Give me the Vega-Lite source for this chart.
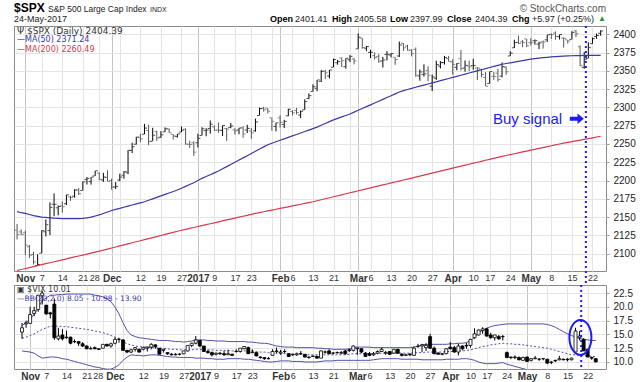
{
"$schema":"https://vega.github.io/schema/vega-lite/v6.json",
"background":"white",
"padding":{"left":13,"top":1,"right":0,"bottom":0},
"spacing":14,
"bounds":"flush",
"config":{
 "view":{"stroke":"#8a8a8a","strokeWidth":1},
 "axis":{"labelFont":"Liberation Sans","labelColor":"#222","domain":false,"ticks":false,"gridColor":"#e4e4e4","gridWidth":1},
 "text":{"font":"Liberation Sans"}
},
"datasets":{"p":[
{"i":-2,"o":2132.2,"h":2140.7,"l":2119.4,"c":2126.4,"m50":2157.5,"m200":2077.0,"vo":15.4,"vh":17.1,"vl":14.2,"vc":16.2,"bu":16.6,"bm":14.3,"bl":12.0},
{"i":-1,"o":2129.8,"h":2133.3,"l":2125.5,"c":2126.2,"m50":2156.0,"m200":2078.3,"vo":16.9,"vh":17.5,"vl":16.2,"vc":17.1,"bu":17.1,"bm":14.5,"bl":11.9},
{"i":0,"o":2128.7,"h":2131.5,"l":2097.9,"c":2111.7,"m50":2155.0,"m200":2079.7,"vo":17.0,"vh":20.0,"vl":16.9,"vc":18.6,"bu":17.8,"bm":14.8,"bl":11.8},
{"i":1,"o":2109.4,"h":2111.8,"l":2094.0,"c":2097.9,"m50":2153.5,"m200":2081.0,"vo":18.8,"vh":20.0,"vl":18.3,"vc":19.3,"bu":18.6,"bm":15.1,"bl":11.6},
{"i":2,"o":2098.8,"h":2102.6,"l":2085.2,"c":2088.7,"m50":2152.0,"m200":2082.3,"vo":19.5,"vh":22.1,"vl":19.1,"vc":22.1,"bu":19.9,"bm":15.5,"bl":11.1},
{"i":3,"o":2083.8,"h":2099.1,"l":2083.8,"c":2085.2,"m50":2151.0,"m200":2083.7,"vo":22.0,"vh":22.9,"vl":20.4,"vc":22.5,"bu":21.1,"bm":15.9,"bl":10.7},
{"i":4,"o":2100.6,"h":2132.0,"l":2100.6,"c":2131.5,"m50":2150.0,"m200":2085.0,"vo":20.3,"vh":20.3,"vl":18.6,"vc":18.7,"bu":21.6,"bm":16.2,"bl":10.8},
{"i":5,"o":2129.9,"h":2146.9,"l":2123.6,"c":2139.6,"m50":2149.5,"m200":2086.3,"vo":18.9,"vh":19.1,"vl":17.9,"vc":18.7,"bu":22.1,"bm":16.5,"bl":10.9},
{"i":6,"o":2131.6,"h":2170.1,"l":2125.4,"c":2163.3,"m50":2149.0,"m200":2087.6,"vo":20.5,"vh":21.5,"vl":14.0,"vc":14.4,"bu":22.1,"bm":16.5,"bl":10.9},
{"i":7,"o":2167.5,"h":2182.3,"l":2151.2,"c":2167.5,"m50":2148.5,"m200":2088.9,"vo":14.2,"vh":16.2,"vl":13.9,"vc":14.7,"bu":22.2,"bm":16.5,"bl":10.8},
{"i":8,"o":2162.7,"h":2165.9,"l":2152.5,"c":2164.5,"m50":2148.2,"m200":2090.2,"vo":14.9,"vh":16.0,"vl":13.9,"vc":14.2,"bu":22.2,"bm":16.4,"bl":10.6},
{"i":9,"o":2165.6,"h":2171.4,"l":2156.1,"c":2164.2,"m50":2148.0,"m200":2091.5,"vo":14.4,"vh":15.7,"vl":14.2,"vc":14.5,"bu":22.3,"bm":16.4,"bl":10.5},
{"i":10,"o":2168.3,"h":2180.8,"l":2166.4,"c":2180.4,"m50":2148.0,"m200":2092.8,"vo":14.5,"vh":14.6,"vl":13.2,"vc":13.4,"bu":22.3,"bm":16.3,"bl":10.3},
{"i":11,"o":2177.5,"h":2179.2,"l":2172.2,"c":2176.9,"m50":2148.0,"m200":2094.2,"vo":13.7,"vh":14.1,"vl":13.4,"vc":13.7,"bu":22.3,"bm":16.2,"bl":10.1},
{"i":12,"o":2178.6,"h":2188.1,"l":2176.6,"c":2187.1,"m50":2148.0,"m200":2095.5,"vo":13.7,"vh":13.8,"vl":12.9,"vc":13.4,"bu":22.3,"bm":16.1,"bl":9.9},
{"i":13,"o":2186.9,"h":2189.9,"l":2180.4,"c":2181.9,"m50":2148.0,"m200":2096.8,"vo":13.3,"vh":13.6,"vl":12.7,"vc":12.9,"bu":22.3,"bm":16.0,"bl":9.7},
{"i":14,"o":2186.4,"h":2198.7,"l":2186.4,"c":2198.2,"m50":2148.3,"m200":2098.1,"vo":12.9,"vh":13.0,"vl":12.3,"vc":12.4,"bu":22.3,"bm":15.9,"bl":9.5},
{"i":15,"o":2201.6,"h":2204.8,"l":2194.5,"c":2202.9,"m50":2149.0,"m200":2099.4,"vo":12.4,"vh":12.8,"vl":12.3,"vc":12.4,"bu":22.3,"bm":15.8,"bl":9.3},
{"i":16,"o":2198.6,"h":2204.7,"l":2194.5,"c":2204.7,"m50":2150.0,"m200":2100.7,"vo":12.6,"vh":12.8,"vl":12.3,"vc":12.4,"bu":22.1,"bm":15.6,"bl":9.1},
{"i":17,"o":2206.3,"h":2213.4,"l":2206.3,"c":2213.4,"m50":2151.5,"m200":2102.0,"vo":12.4,"vh":12.4,"vl":12.2,"vc":12.3,"bu":22.0,"bm":15.5,"bl":9.0},
{"i":18,"o":2210.2,"h":2211.1,"l":2200.4,"c":2201.7,"m50":2153.0,"m200":2103.4,"vo":12.5,"vh":13.2,"vl":12.5,"vc":13.2,"bu":21.8,"bm":15.3,"bl":8.8},
{"i":19,"o":2200.8,"h":2210.5,"l":2198.2,"c":2204.7,"m50":2155.0,"m200":2104.9,"vo":13.2,"vh":13.3,"vl":12.8,"vc":12.9,"bu":21.5,"bm":15.1,"bl":8.7},
{"i":20,"o":2204.3,"h":2214.1,"l":2198.8,"c":2198.8,"m50":2157.0,"m200":2106.3,"vo":12.9,"vh":13.5,"vl":12.6,"vc":13.3,"bu":20.9,"bm":14.8,"bl":8.7},
{"i":21,"o":2200.2,"h":2202.6,"l":2187.4,"c":2191.1,"m50":2159.0,"m200":2107.7,"vo":13.4,"vh":14.4,"vl":13.2,"vc":14.1,"bu":20.0,"bm":14.5,"bl":9.0},
{"i":22,"o":2191.1,"h":2197.9,"l":2188.4,"c":2192.0,"m50":2160.5,"m200":2109.1,"vo":14.1,"vh":14.4,"vl":13.5,"vc":14.1,"bu":18.7,"bm":14.1,"bl":9.5},
{"i":23,"o":2200.6,"h":2209.4,"l":2199.0,"c":2204.7,"m50":2162.0,"m200":2110.6,"vo":14.0,"vh":14.1,"vl":12.1,"vc":12.1,"bu":17.1,"bm":13.7,"bl":10.3},
{"i":24,"o":2207.3,"h":2212.8,"l":2202.5,"c":2212.2,"m50":2163.5,"m200":2112.0,"vo":12.1,"vh":12.2,"vl":11.6,"vc":11.8,"bu":15.7,"bm":13.3,"bl":10.9},
{"i":25,"o":2210.7,"h":2241.6,"l":2208.9,"c":2241.4,"m50":2165.0,"m200":2113.4,"vo":11.8,"vh":12.4,"vl":11.6,"vc":12.2,"bu":14.9,"bm":13.1,"bl":11.3},
{"i":26,"o":2241.1,"h":2251.7,"l":2237.6,"c":2246.2,"m50":2166.5,"m200":2114.9,"vo":12.3,"vh":12.7,"vl":11.9,"vc":12.6,"bu":14.6,"bm":12.9,"bl":11.2},
{"i":27,"o":2249.7,"h":2259.8,"l":2249.2,"c":2259.5,"m50":2168.0,"m200":2116.3,"vo":12.3,"vh":12.4,"vl":11.7,"vc":11.8,"bu":14.4,"bm":12.8,"bl":11.2},
{"i":28,"o":2258.8,"h":2264.0,"l":2252.4,"c":2257.0,"m50":2169.5,"m200":2117.7,"vo":12.3,"vh":12.8,"vl":12.1,"vc":12.6,"bu":14.3,"bm":12.7,"bl":11.1},
{"i":29,"o":2263.3,"h":2277.5,"l":2263.3,"c":2271.7,"m50":2171.0,"m200":2119.1,"vo":12.5,"vh":12.8,"vl":11.9,"vc":12.7,"bu":14.2,"bm":12.7,"bl":11.2},
{"i":30,"o":2268.4,"h":2276.2,"l":2248.4,"c":2253.3,"m50":2173.0,"m200":2120.6,"vo":12.7,"vh":13.4,"vl":12.3,"vc":13.2,"bu":14.1,"bm":12.6,"bl":11.3},
{"i":31,"o":2253.8,"h":2272.1,"l":2253.8,"c":2262.0,"m50":2175.0,"m200":2122.0,"vo":13.1,"vh":13.2,"vl":12.4,"vc":12.8,"bu":14.0,"bm":12.6,"bl":11.3},
{"i":32,"o":2266.8,"h":2268.1,"l":2254.2,"c":2258.1,"m50":2177.0,"m200":2123.4,"vo":12.5,"vh":12.5,"vl":11.4,"vc":11.4,"bu":13.9,"bm":12.5,"bl":11.2},
{"i":33,"o":2259.2,"h":2267.5,"l":2258.2,"c":2262.5,"m50":2179.0,"m200":2124.9,"vo":12.1,"vh":12.4,"vl":11.7,"vc":12.3,"bu":13.9,"bm":12.5,"bl":11.1},
{"i":34,"o":2266.5,"h":2272.6,"l":2266.2,"c":2270.8,"m50":2181.0,"m200":2126.3,"vo":11.7,"vh":11.7,"vl":11.3,"vc":11.5,"bu":13.9,"bm":12.4,"bl":11.0},
{"i":35,"o":2270.5,"h":2271.2,"l":2265.2,"c":2265.2,"m50":2183.0,"m200":2127.7,"vo":11.4,"vh":11.6,"vl":11.2,"vc":11.3,"bu":13.8,"bm":12.3,"bl":10.9},
{"i":36,"o":2262.9,"h":2263.2,"l":2256.1,"c":2261.0,"m50":2185.0,"m200":2129.1,"vo":11.3,"vh":11.6,"vl":11.2,"vc":11.4,"bu":13.7,"bm":12.3,"bl":10.9},
{"i":37,"o":2260.3,"h":2263.8,"l":2258.8,"c":2263.8,"m50":2187.0,"m200":2130.6,"vo":11.4,"vh":11.6,"vl":11.2,"vc":11.4,"bu":13.7,"bm":12.2,"bl":10.8},
{"i":38,"o":2266.2,"h":2273.8,"l":2266.2,"c":2268.9,"m50":2189.5,"m200":2132.0,"vo":11.5,"vh":12.0,"vl":11.4,"vc":12.0,"bu":13.6,"bm":12.2,"bl":10.8},
{"i":39,"o":2270.2,"h":2271.3,"l":2249.1,"c":2249.9,"m50":2192.0,"m200":2133.3,"vo":12.0,"vh":13.0,"vl":11.9,"vc":13.0,"bu":13.7,"bm":12.2,"bl":10.8},
{"i":40,"o":2249.5,"h":2254.5,"l":2244.6,"c":2249.3,"m50":2194.5,"m200":2134.6,"vo":13.0,"vh":13.5,"vl":12.7,"vc":13.4,"bu":13.8,"bm":12.2,"bl":10.8},
{"i":41,"o":2251.6,"h":2253.6,"l":2233.6,"c":2238.8,"m50":2197.0,"m200":2135.8,"vo":13.4,"vh":14.7,"vl":13.2,"vc":14.0,"bu":14.0,"bm":12.3,"bl":10.7},
{"i":42,"o":2251.6,"h":2263.9,"l":2245.1,"c":2257.8,"m50":2200.0,"m200":2137.1,"vo":13.9,"vh":14.0,"vl":12.7,"vc":12.9,"bu":14.0,"bm":12.3,"bl":10.7},
{"i":43,"o":2261.6,"h":2272.8,"l":2261.6,"c":2270.8,"m50":2203.0,"m200":2138.4,"vo":12.9,"vh":12.9,"vl":11.8,"vc":11.9,"bu":14.0,"bm":12.3,"bl":10.7},
{"i":44,"o":2268.2,"h":2271.5,"l":2260.5,"c":2269.0,"m50":2205.5,"m200":2139.7,"vo":11.9,"vh":12.2,"vl":11.5,"vc":11.7,"bu":13.9,"bm":12.2,"bl":10.6},
{"i":45,"o":2271.1,"h":2282.1,"l":2264.1,"c":2277.0,"m50":2208.0,"m200":2140.9,"vo":11.7,"vh":11.9,"vl":11.0,"vc":11.3,"bu":13.9,"bm":12.2,"bl":10.6},
{"i":46,"o":2273.6,"h":2275.5,"l":2268.0,"c":2268.9,"m50":2210.5,"m200":2142.2,"vo":11.4,"vh":11.7,"vl":11.2,"vc":11.6,"bu":13.8,"bm":12.1,"bl":10.5},
{"i":47,"o":2269.0,"h":2279.3,"l":2265.3,"c":2268.9,"m50":2213.0,"m200":2143.5,"vo":11.6,"vh":11.8,"vl":11.3,"vc":11.5,"bu":13.8,"bm":12.1,"bl":10.5},
{"i":48,"o":2268.6,"h":2275.3,"l":2260.8,"c":2275.3,"m50":2216.0,"m200":2144.8,"vo":11.5,"vh":12.0,"vl":11.1,"vc":11.3,"bu":13.8,"bm":12.1,"bl":10.5},
{"i":49,"o":2271.1,"h":2271.8,"l":2254.3,"c":2270.4,"m50":2219.0,"m200":2146.1,"vo":11.3,"vh":12.2,"vl":11.3,"vc":11.5,"bu":13.7,"bm":12.1,"bl":10.6},
{"i":50,"o":2272.7,"h":2278.7,"l":2271.5,"c":2274.6,"m50":2222.0,"m200":2147.3,"vo":11.4,"vh":11.5,"vl":11.1,"vc":11.2,"bu":13.7,"bm":12.0,"bl":10.6},
{"i":51,"o":2269.1,"h":2272.1,"l":2262.8,"c":2267.9,"m50":2225.0,"m200":2148.6,"vo":11.9,"vh":12.3,"vl":11.7,"vc":11.9,"bu":13.7,"bm":12.0,"bl":10.6},
{"i":52,"o":2269.1,"h":2272.0,"l":2263.4,"c":2271.9,"m50":2228.0,"m200":2149.9,"vo":11.9,"vh":12.5,"vl":11.7,"vc":12.5,"bu":13.7,"bm":12.0,"bl":10.6},
{"i":53,"o":2271.9,"h":2274.3,"l":2258.4,"c":2263.7,"m50":2231.0,"m200":2151.2,"vo":12.4,"vh":12.9,"vl":12.3,"vc":12.8,"bu":13.7,"bm":12.0,"bl":10.5},
{"i":54,"o":2269.0,"h":2276.2,"l":2265.0,"c":2271.3,"m50":2234.0,"m200":2152.4,"vo":12.6,"vh":12.8,"vl":11.5,"vc":11.5,"bu":13.6,"bm":12.0,"bl":10.5},
{"i":55,"o":2267.8,"h":2271.8,"l":2257.0,"c":2265.2,"m50":2237.0,"m200":2153.7,"vo":11.7,"vh":12.3,"vl":11.6,"vc":11.8,"bu":13.6,"bm":12.0,"bl":10.4},
{"i":56,"o":2267.9,"h":2284.6,"l":2266.7,"c":2280.1,"m50":2240.0,"m200":2155.0,"vo":11.7,"vh":11.7,"vl":11.0,"vc":11.1,"bu":13.5,"bm":11.9,"bl":10.3},
{"i":57,"o":2288.9,"h":2299.6,"l":2288.9,"c":2298.4,"m50":2243.0,"m200":2156.1,"vo":10.9,"vh":11.0,"vl":10.6,"vc":10.8,"bu":13.4,"bm":11.8,"bl":10.2},
{"i":58,"o":2298.6,"h":2300.9,"l":2294.1,"c":2296.7,"m50":2246.0,"m200":2157.3,"vo":10.8,"vh":10.9,"vl":10.4,"vc":10.6,"bu":13.4,"bm":11.8,"bl":10.1},
{"i":59,"o":2299.0,"h":2299.0,"l":2291.6,"c":2294.7,"m50":2249.0,"m200":2158.4,"vo":10.6,"vh":10.9,"vl":10.5,"vc":10.6,"bu":13.3,"bm":11.7,"bl":10.0},
{"i":60,"o":2286.0,"h":2286.0,"l":2268.0,"c":2280.9,"m50":2251.0,"m200":2159.6,"vo":11.2,"vh":12.3,"vl":11.2,"vc":11.9,"bu":13.1,"bm":11.6,"bl":10.0},
{"i":61,"o":2274.0,"h":2279.1,"l":2267.2,"c":2278.9,"m50":2253.0,"m200":2160.7,"vo":11.9,"vh":12.6,"vl":11.6,"vc":12.0,"bu":12.9,"bm":11.6,"bl":10.1},
{"i":62,"o":2285.6,"h":2289.1,"l":2272.4,"c":2279.6,"m50":2255.0,"m200":2161.9,"vo":11.6,"vh":12.2,"vl":11.3,"vc":11.8,"bu":12.8,"bm":11.6,"bl":10.2},
{"i":63,"o":2276.7,"h":2283.0,"l":2271.7,"c":2280.9,"m50":2257.0,"m200":2163.0,"vo":11.9,"vh":12.3,"vl":11.6,"vc":11.9,"bu":12.7,"bm":11.5,"bl":10.2},
{"i":64,"o":2288.5,"h":2298.3,"l":2287.9,"c":2297.4,"m50":2259.0,"m200":2164.1,"vo":11.5,"vh":11.6,"vl":10.9,"vc":11.0,"bu":12.7,"bm":11.5,"bl":10.2},
{"i":65,"o":2294.3,"h":2296.2,"l":2289.0,"c":2292.6,"m50":2261.0,"m200":2165.3,"vo":11.3,"vh":11.5,"vl":11.1,"vc":11.4,"bu":12.7,"bm":11.4,"bl":10.1},
{"i":66,"o":2295.9,"h":2299.4,"l":2290.2,"c":2293.1,"m50":2263.0,"m200":2166.4,"vo":11.3,"vh":11.7,"vl":11.1,"vc":11.5,"bu":12.6,"bm":11.4,"bl":10.1},
{"i":67,"o":2289.6,"h":2295.9,"l":2285.4,"c":2294.7,"m50":2265.0,"m200":2167.6,"vo":11.5,"vh":12.0,"vl":11.3,"vc":11.5,"bu":12.6,"bm":11.4,"bl":10.1},
{"i":68,"o":2296.7,"h":2311.1,"l":2296.6,"c":2307.9,"m50":2267.0,"m200":2168.7,"vo":11.4,"vh":11.4,"vl":10.8,"vc":10.9,"bu":12.6,"bm":11.3,"bl":10.0},
{"i":69,"o":2312.3,"h":2319.2,"l":2311.1,"c":2316.1,"m50":2269.0,"m200":2169.9,"vo":10.8,"vh":11.0,"vl":10.6,"vc":10.9,"bu":12.6,"bm":11.3,"bl":10.0},
{"i":70,"o":2321.7,"h":2331.6,"l":2321.4,"c":2328.3,"m50":2271.0,"m200":2171.0,"vo":11.0,"vh":11.1,"vl":10.9,"vc":11.1,"bu":12.6,"bm":11.3,"bl":10.0},
{"i":71,"o":2326.1,"h":2337.6,"l":2322.2,"c":2337.6,"m50":2273.0,"m200":2172.4,"vo":11.0,"vh":11.2,"vl":10.6,"vc":10.7,"bu":12.5,"bm":11.3,"bl":10.0},
{"i":72,"o":2335.6,"h":2351.3,"l":2334.8,"c":2349.3,"m50":2275.5,"m200":2173.7,"vo":10.7,"vh":12.1,"vl":10.7,"vc":12.0,"bu":12.5,"bm":11.3,"bl":10.1},
{"i":73,"o":2349.6,"h":2351.3,"l":2338.9,"c":2347.2,"m50":2278.0,"m200":2175.1,"vo":11.8,"vh":12.1,"vl":11.5,"vc":11.8,"bu":12.4,"bm":11.3,"bl":10.2},
{"i":74,"o":2343.0,"h":2351.2,"l":2339.6,"c":2351.2,"m50":2280.5,"m200":2176.5,"vo":12.0,"vh":12.3,"vl":11.5,"vc":11.5,"bu":12.4,"bm":11.3,"bl":10.2},
{"i":75,"o":2354.9,"h":2366.7,"l":2354.9,"c":2365.4,"m50":2283.0,"m200":2177.8,"vo":11.6,"vh":11.8,"vl":11.4,"vc":11.6,"bu":12.3,"bm":11.3,"bl":10.2},
{"i":76,"o":2361.1,"h":2365.1,"l":2358.3,"c":2362.8,"m50":2285.0,"m200":2179.2,"vo":11.7,"vh":11.9,"vl":11.5,"vc":11.7,"bu":12.3,"bm":11.3,"bl":10.3},
{"i":77,"o":2367.5,"h":2368.3,"l":2355.1,"c":2363.8,"m50":2287.0,"m200":2180.5,"vo":11.6,"vh":12.0,"vl":11.4,"vc":11.7,"bu":12.3,"bm":11.3,"bl":10.3},
{"i":78,"o":2355.7,"h":2367.3,"l":2352.9,"c":2367.3,"m50":2289.0,"m200":2181.9,"vo":12.0,"vh":12.2,"vl":11.3,"vc":11.5,"bu":12.3,"bm":11.3,"bl":10.3},
{"i":79,"o":2365.2,"h":2371.5,"l":2361.9,"c":2369.8,"m50":2291.0,"m200":2183.3,"vo":12.2,"vh":12.4,"vl":11.8,"vc":12.1,"bu":12.4,"bm":11.4,"bl":10.3},
{"i":80,"o":2366.1,"h":2367.8,"l":2358.9,"c":2363.6,"m50":2293.5,"m200":2184.6,"vo":12.1,"vh":13.0,"vl":11.9,"vc":12.9,"bu":12.6,"bm":11.5,"bl":10.3},
{"i":81,"o":2380.1,"h":2401.0,"l":2380.1,"c":2396.0,"m50":2296.0,"m200":2186.0,"vo":12.4,"vh":12.6,"vl":11.3,"vc":12.5,"bu":12.7,"bm":11.5,"bl":10.3},
{"i":82,"o":2394.8,"h":2394.8,"l":2380.2,"c":2381.9,"m50":2298.5,"m200":2187.3,"vo":12.4,"vh":12.5,"vl":11.6,"vc":11.8,"bu":12.7,"bm":11.5,"bl":10.3},
{"i":83,"o":2380.9,"h":2383.9,"l":2376.9,"c":2383.1,"m50":2301.0,"m200":2188.7,"vo":11.6,"vh":11.8,"vl":10.9,"vc":11.0,"bu":12.7,"bm":11.5,"bl":10.3},
{"i":84,"o":2375.2,"h":2378.8,"l":2367.4,"c":2375.3,"m50":2303.5,"m200":2190.0,"vo":11.5,"vh":11.8,"vl":11.1,"vc":11.2,"bu":12.7,"bm":11.5,"bl":10.3},
{"i":85,"o":2370.7,"h":2375.1,"l":2365.5,"c":2368.4,"m50":2306.0,"m200":2191.3,"vo":11.3,"vh":11.8,"vl":11.1,"vc":11.5,"bu":12.6,"bm":11.5,"bl":10.4},
{"i":86,"o":2369.8,"h":2373.1,"l":2361.0,"c":2363.0,"m50":2308.5,"m200":2192.7,"vo":11.6,"vh":12.1,"vl":11.4,"vc":11.9,"bu":12.6,"bm":11.6,"bl":10.5},
{"i":87,"o":2363.5,"h":2369.1,"l":2354.5,"c":2364.9,"m50":2311.0,"m200":2194.0,"vo":11.9,"vh":12.6,"vl":11.8,"vc":12.3,"bu":12.6,"bm":11.6,"bl":10.6},
{"i":88,"o":2372.5,"h":2376.9,"l":2364.2,"c":2372.6,"m50":2313.5,"m200":2195.3,"vo":11.6,"vh":12.0,"vl":11.3,"vc":11.7,"bu":12.6,"bm":11.6,"bl":10.6},
{"i":89,"o":2371.6,"h":2374.4,"l":2368.5,"c":2373.5,"m50":2316.0,"m200":2196.7,"vo":11.9,"vh":11.9,"vl":11.3,"vc":11.4,"bu":12.6,"bm":11.6,"bl":10.6},
{"i":90,"o":2368.6,"h":2368.6,"l":2358.2,"c":2365.5,"m50":2318.5,"m200":2198.0,"vo":11.6,"vh":12.3,"vl":11.5,"vc":12.3,"bu":12.6,"bm":11.6,"bl":10.6},
{"i":91,"o":2370.3,"h":2390.0,"l":2368.9,"c":2385.3,"m50":2321.0,"m200":2199.3,"vo":12.3,"vh":12.4,"vl":11.5,"vc":11.6,"bu":12.6,"bm":11.6,"bl":10.6},
{"i":92,"o":2387.7,"h":2388.1,"l":2377.2,"c":2381.4,"m50":2323.0,"m200":2200.7,"vo":11.4,"vh":11.6,"vl":11.0,"vc":11.2,"bu":12.6,"bm":11.6,"bl":10.5},
{"i":93,"o":2383.7,"h":2385.7,"l":2377.6,"c":2378.3,"m50":2324.5,"m200":2202.0,"vo":11.2,"vh":11.5,"vl":11.1,"vc":11.3,"bu":12.6,"bm":11.6,"bl":10.5},
{"i":94,"o":2378.2,"h":2379.6,"l":2369.7,"c":2373.5,"m50":2326.0,"m200":2203.3,"vo":11.4,"vh":11.6,"vl":11.1,"vc":11.3,"bu":12.6,"bm":11.6,"bl":10.5},
{"i":95,"o":2379.3,"h":2381.9,"l":2341.9,"c":2344.0,"m50":2327.5,"m200":2204.7,"vo":11.2,"vh":12.8,"vl":11.1,"vc":12.5,"bu":12.7,"bm":11.6,"bl":10.5},
{"i":96,"o":2343.0,"h":2351.8,"l":2336.5,"c":2348.5,"m50":2329.0,"m200":2206.0,"vo":12.8,"vh":13.3,"vl":12.6,"vc":12.8,"bu":12.9,"bm":11.7,"bl":10.5},
{"i":97,"o":2345.1,"h":2358.9,"l":2342.1,"c":2346.0,"m50":2330.5,"m200":2207.4,"vo":12.9,"vh":13.3,"vl":11.8,"vc":13.1,"bu":13.1,"bm":11.7,"bl":10.4},
{"i":98,"o":2350.4,"h":2356.2,"l":2335.7,"c":2344.0,"m50":2332.0,"m200":2208.8,"vo":12.6,"vh":13.4,"vl":12.0,"vc":13.0,"bu":13.2,"bm":11.8,"bl":10.4},
{"i":99,"o":2329.1,"h":2344.9,"l":2322.3,"c":2341.6,"m50":2333.5,"m200":2210.1,"vo":14.6,"vh":15.1,"vl":12.4,"vc":12.5,"bu":13.2,"bm":11.8,"bl":10.4},
{"i":100,"o":2339.8,"h":2363.8,"l":2337.6,"c":2358.6,"m50":2335.0,"m200":2211.5,"vo":12.5,"vh":12.8,"vl":11.4,"vc":11.5,"bu":13.2,"bm":11.8,"bl":10.4},
{"i":101,"o":2356.5,"h":2363.4,"l":2353.3,"c":2361.1,"m50":2336.5,"m200":2212.9,"vo":11.6,"vh":11.8,"vl":11.3,"vc":11.4,"bu":13.2,"bm":11.8,"bl":10.4},
{"i":102,"o":2361.3,"h":2370.4,"l":2358.6,"c":2368.1,"m50":2338.0,"m200":2214.3,"vo":11.4,"vh":11.6,"vl":11.2,"vc":11.5,"bu":13.2,"bm":11.8,"bl":10.4},
{"i":103,"o":2366.6,"h":2370.4,"l":2362.6,"c":2362.7,"m50":2339.5,"m200":2215.6,"vo":11.5,"vh":12.5,"vl":11.4,"vc":12.4,"bu":13.2,"bm":11.9,"bl":10.5},
{"i":104,"o":2362.3,"h":2365.9,"l":2344.7,"c":2358.8,"m50":2341.0,"m200":2217.0,"vo":12.7,"vh":13.6,"vl":12.3,"vc":12.4,"bu":13.3,"bm":11.9,"bl":10.5},
{"i":105,"o":2354.8,"h":2360.5,"l":2350.7,"c":2360.2,"m50":2342.5,"m200":2218.3,"vo":12.6,"vh":12.9,"vl":11.7,"vc":11.8,"bu":13.3,"bm":11.9,"bl":10.5},
{"i":106,"o":2366.6,"h":2378.4,"l":2350.5,"c":2353.0,"m50":2344.0,"m200":2219.7,"vo":11.8,"vh":13.3,"vl":11.2,"vc":12.9,"bu":13.4,"bm":12.0,"bl":10.5},
{"i":107,"o":2353.8,"h":2364.2,"l":2348.9,"c":2357.5,"m50":2345.5,"m200":2221.0,"vo":12.9,"vh":13.0,"vl":12.1,"vc":12.4,"bu":13.4,"bm":12.0,"bl":10.6},
{"i":108,"o":2356.6,"h":2363.8,"l":2349.6,"c":2355.5,"m50":2347.0,"m200":2222.3,"vo":13.0,"vh":13.5,"vl":12.4,"vc":12.9,"bu":13.5,"bm":12.1,"bl":10.6},
{"i":109,"o":2357.2,"h":2366.4,"l":2351.5,"c":2357.2,"m50":2348.5,"m200":2223.7,"vo":13.0,"vh":14.2,"vl":12.6,"vc":14.1,"bu":13.9,"bm":12.2,"bl":10.5},
{"i":110,"o":2353.9,"h":2355.2,"l":2337.3,"c":2353.8,"m50":2350.0,"m200":2225.0,"vo":14.4,"vh":16.1,"vl":14.2,"vc":15.1,"bu":14.5,"bm":12.4,"bl":10.3},
{"i":111,"o":2352.2,"h":2352.7,"l":2341.2,"c":2344.9,"m50":2351.5,"m200":2226.3,"vo":14.9,"vh":15.9,"vl":14.8,"vc":15.8,"bu":15.2,"bm":12.6,"bl":10.0},
{"i":112,"o":2341.0,"h":2348.3,"l":2328.9,"c":2329.0,"m50":2353.0,"m200":2227.7,"vo":15.7,"vh":16.3,"vl":15.1,"vc":16.0,"bu":15.8,"bm":12.8,"bl":9.8},
{"i":113,"o":2332.6,"h":2349.1,"l":2332.5,"c":2349.0,"m50":2354.5,"m200":2229.0,"vo":16.0,"vh":16.2,"vl":14.6,"vc":14.7,"bu":16.1,"bm":12.9,"bl":9.7},
{"i":114,"o":2342.5,"h":2348.4,"l":2337.5,"c":2342.2,"m50":2356.0,"m200":2230.3,"vo":14.9,"vh":15.3,"vl":14.2,"vc":14.4,"bu":16.4,"bm":13.1,"bl":9.7},
{"i":115,"o":2346.8,"h":2352.6,"l":2335.1,"c":2338.2,"m50":2357.5,"m200":2231.7,"vo":14.4,"vh":14.9,"vl":13.9,"vc":14.9,"bu":16.6,"bm":13.2,"bl":9.7},
{"i":116,"o":2342.7,"h":2361.4,"l":2340.9,"c":2355.8,"m50":2359.0,"m200":2233.0,"vo":14.6,"vh":14.9,"vl":14.0,"vc":14.2,"bu":16.7,"bm":13.3,"bl":9.8},
{"i":117,"o":2354.7,"h":2356.2,"l":2344.5,"c":2348.7,"m50":2360.0,"m200":2234.2,"vo":14.6,"vh":14.9,"vl":13.9,"vc":14.6,"bu":16.8,"bm":13.4,"bl":9.9},
{"i":118,"o":2370.3,"h":2376.9,"l":2370.3,"c":2374.2,"m50":2361.0,"m200":2235.4,"vo":11.7,"vh":11.9,"vl":10.8,"vc":10.8,"bu":16.9,"bm":13.3,"bl":9.6},
{"i":119,"o":2381.5,"h":2392.5,"l":2381.2,"c":2388.6,"m50":2362.0,"m200":2236.6,"vo":10.9,"vh":11.0,"vl":10.5,"vc":10.8,"bu":16.9,"bm":13.3,"bl":9.4},
{"i":120,"o":2388.9,"h":2398.2,"l":2386.8,"c":2387.5,"m50":2363.0,"m200":2237.9,"vo":10.8,"vh":11.2,"vl":10.5,"vc":10.9,"bu":16.9,"bm":13.2,"bl":9.2},
{"i":121,"o":2389.7,"h":2392.1,"l":2382.4,"c":2388.8,"m50":2364.0,"m200":2239.1,"vo":10.8,"vh":11.0,"vl":10.3,"vc":10.4,"bu":16.9,"bm":13.2,"bl":9.0},
{"i":122,"o":2393.7,"h":2393.7,"l":2382.4,"c":2384.2,"m50":2365.0,"m200":2240.3,"vo":10.3,"vh":11.0,"vl":10.2,"vc":10.8,"bu":16.9,"bm":13.1,"bl":8.8},
{"i":123,"o":2388.5,"h":2394.5,"l":2384.8,"c":2388.3,"m50":2366.0,"m200":2241.5,"vo":10.9,"vh":11.0,"vl":10.0,"vc":10.1,"bu":16.9,"bm":13.0,"bl":8.6},
{"i":124,"o":2391.1,"h":2392.9,"l":2385.8,"c":2391.2,"m50":2366.8,"m200":2242.7,"vo":10.3,"vh":10.7,"vl":10.1,"vc":10.6,"bu":16.9,"bm":12.9,"bl":8.4},
{"i":125,"o":2386.5,"h":2389.8,"l":2379.8,"c":2388.1,"m50":2367.5,"m200":2243.9,"vo":10.6,"vh":11.1,"vl":10.5,"vc":10.7,"bu":16.9,"bm":12.8,"bl":8.2},
{"i":126,"o":2389.8,"h":2391.4,"l":2380.4,"c":2389.5,"m50":2368.0,"m200":2245.1,"vo":10.5,"vh":10.7,"vl":10.2,"vc":10.5,"bu":16.9,"bm":12.7,"bl":8.0},
{"i":127,"o":2392.4,"h":2399.3,"l":2389.4,"c":2399.3,"m50":2368.5,"m200":2246.4,"vo":10.6,"vh":10.7,"vl":10.3,"vc":10.6,"bu":16.9,"bm":12.6,"bl":7.8},
{"i":128,"o":2399.9,"h":2401.4,"l":2393.5,"c":2399.4,"m50":2369.0,"m200":2247.6,"vo":10.5,"vh":10.5,"vl":9.6,"vc":9.8,"bu":16.8,"bm":12.5,"bl":7.7},
{"i":129,"o":2401.6,"h":2403.9,"l":2392.4,"c":2396.9,"m50":2369.4,"m200":2248.8,"vo":9.9,"vh":10.2,"vl":9.6,"vc":10.0,"bu":16.6,"bm":12.3,"bl":7.6},
{"i":130,"o":2396.8,"h":2399.7,"l":2392.8,"c":2399.6,"m50":2369.8,"m200":2250.0,"vo":10.3,"vh":10.4,"vl":10.0,"vc":10.2,"bu":16.3,"bm":12.1,"bl":7.6},
{"i":131,"o":2394.8,"h":2395.7,"l":2381.7,"c":2394.4,"m50":2370.1,"m200":2251.1,"vo":10.4,"vh":11.1,"vl":10.3,"vc":10.6,"bu":15.9,"bm":11.9,"bl":7.6},
{"i":132,"o":2392.4,"h":2392.4,"l":2387.2,"c":2390.9,"m50":2370.4,"m200":2252.1,"vo":10.5,"vh":10.6,"vl":10.3,"vc":10.4,"bu":15.5,"bm":11.7,"bl":7.7},
{"i":133,"o":2393.0,"h":2404.1,"l":2393.0,"c":2402.3,"m50":2370.6,"m200":2253.2,"vo":10.5,"vh":10.7,"vl":10.1,"vc":10.4,"bu":15.1,"bm":11.5,"bl":7.8},
{"i":134,"o":2404.6,"h":2405.8,"l":2396.1,"c":2400.7,"m50":2370.8,"m200":2254.2,"vo":10.4,"vh":10.8,"vl":10.3,"vc":10.7,"bu":14.8,"bm":11.3,"bl":7.9},
{"i":135,"o":2382.9,"h":2384.9,"l":2356.2,"c":2357.0,"m50":2370.9,"m200":2255.3,"vo":11.8,"vh":16.2,"vl":11.6,"vc":15.6,"bu":14.5,"bm":11.3,"bl":7.9},
{"i":136,"o":2354.7,"h":2375.7,"l":2352.7,"c":2365.7,"m50":2371.0,"m200":2256.3,"vo":14.4,"vh":15.6,"vl":13.9,"vc":14.7,"bu":14.3,"bm":11.2,"bl":8.0},
{"i":137,"o":2367.0,"h":2389.1,"l":2367.0,"c":2381.7,"m50":2371.1,"m200":2257.4,"vo":14.1,"vh":14.3,"vl":12.0,"vc":12.0,"bu":14.1,"bm":11.2,"bl":8.1},
{"i":138,"o":2387.2,"h":2395.5,"l":2386.9,"c":2394.0,"m50":2371.2,"m200":2258.4,"vo":12.3,"vh":12.4,"vl":10.9,"vc":10.9,"bu":14.0,"bm":11.1,"bl":8.1},
{"i":139,"o":2397.0,"h":2400.9,"l":2393.9,"c":2398.4,"m50":2371.2,"m200":2259.5,"vo":10.8,"vh":11.0,"vl":10.4,"vc":10.7,"bu":13.9,"bm":11.0,"bl":8.1},
{"i":140,"o":2401.4,"h":2405.6,"l":2398.0,"c":2404.4,"m50":2371.24,"m200":2260.49,"vo":10.6,"vh":10.7,"vl":9.9,"vc":10.01,"bu":13.9,"bm":10.98,"bl":8.05}
],
"one":[{"k":1}]},
"vconcat":[
{
 "width":592,"height":245,
 "resolve":{"axis":{"x":"independent","y":"independent"}},
 "layer":[
  {"data":{"name":"p"},"mark":{"type":"rule","strokeWidth":1,"clip":true},
   "encoding":{"x":{"field":"i","type":"quantitative","scale":{"domain":[-2.75,141.3],"nice":false,"zero":false},
     "axis":{"title":null,"values":[0,4,9,14,18,21,23,28,33,38,42,46,51,55,60,62,65,70,75,79,81,84,89,94,99,104,109,113,118,123,128,133,138],
      "labelExpr":"['Nov','7','14','21','28','Dec','','12','19','27','2017','9','17','23','','Feb','6','13','21','','Mar','6','13','20','27','Apr','10','17','24','May','8','15','22'][indexof([0,4,9,14,18,21,23,28,33,38,42,46,51,55,60,62,65,70,75,79,81,84,89,94,99,104,109,113,118,123,128,133,138], datum.value)]",
      "labelFontWeight":{"condition":{"test":"indexof([0,21,42,62,81,104,123], datum.value) >= 0","value":"bold"},"value":"normal"},
      "labelFontSize":{"condition":{"test":"indexof([0,21,42,62,81,104,123], datum.value) >= 0","value":10},"value":9},
      "labelAlign":{"condition":{"test":"datum.value == 18","value":"right"},"value":"center"},
      "gridColor":{"condition":{"test":"indexof([0,21,42,62,81,104,123], datum.value) >= 0","value":"#c4c4c4"},"value":"#e4e4e4"},
      "labelPadding":2,"labelOverlap":false,"labelFlush":false,"labelBound":false,"labelColor":"#333"}},
    "y":{"field":"l","type":"quantitative","scale":{"domain":[2076.3,2411.3],"nice":false,"zero":false},
     "axis":{"title":null,"orient":"right","format":"d","values":[2100,2125,2150,2175,2200,2225,2250,2275,2300,2325,2350,2375,2400],"labelOverlap":false,"labelFontSize":10,"labelPadding":4,"ticks":true,"tickSize":3,"tickColor":"#999","gridColor":"#e4e4e4"}},
    "y2":{"field":"h"},
    "color":{"condition":{"test":"datum.c >= datum.o","value":"#000000"},"value":"#555555"}}},
  {"data":{"name":"p"},"mark":{"type":"tick","orient":"horizontal","size":2,"thickness":1,"xOffset":-1.5,"clip":true},
   "encoding":{"x":{"field":"i","type":"quantitative","axis":null},"y":{"field":"o","type":"quantitative","axis":null},
    "color":{"condition":{"test":"datum.c >= datum.o","value":"#000000"},"value":"#555555"}}},
  {"data":{"name":"p"},"mark":{"type":"tick","orient":"horizontal","size":2,"thickness":1,"xOffset":1.5,"clip":true},
   "encoding":{"x":{"field":"i","type":"quantitative","axis":null},"y":{"field":"c","type":"quantitative","axis":null},
    "color":{"condition":{"test":"datum.c >= datum.o","value":"#000000"},"value":"#555555"}}},
  {"data":{"name":"p"},"mark":{"type":"line","color":"#3a3aa2","strokeWidth":1.2,"clip":true},
   "encoding":{"x":{"field":"i","type":"quantitative","axis":null},"y":{"field":"m50","type":"quantitative","axis":null}}},
  {"data":{"name":"p"},"mark":{"type":"line","color":"#d93a4e","strokeWidth":1.2,"clip":true},
   "encoding":{"x":{"field":"i","type":"quantitative","axis":null},"y":{"field":"m200","type":"quantitative","axis":null}}},
  {"data":{"name":"one"},"mark":{"type":"rule","color":"#1c1cf0","strokeWidth":2,"strokeDash":[2,3]},
   "encoding":{"x":{"datum":136.4,"axis":null},"y":{"datum":2411.3,"axis":null},"y2":{"datum":2056}}},
  {"data":{"name":"one"},"mark":{"type":"text","align":"left","baseline":"middle","fontSize":15,"color":"#1c1cf0","text":"Buy signal"},
   "encoding":{"x":{"datum":113.8,"axis":null},"y":{"datum":2284.5,"axis":null}}},
  {"data":{"name":"one"},"mark":{"type":"point","shape":"M-1,-0.3 L0.1,-0.3 L0.1,-0.75 L1,0 L0.1,0.75 L0.1,0.3 L-1,0.3 Z","size":196,"filled":true,"color":"#1c1cf0","opacity":1},
   "encoding":{"x":{"datum":134.2,"axis":null},"y":{"datum":2284.5,"axis":null}}},
  {"data":{"name":"one"},"mark":{"type":"text","align":"left","baseline":"middle","font":"DejaVu Sans","fontSize":9,"color":"#333","text":"Ψ $SPX (Daily) 2404.39"},"encoding":{"x":{"value":3},"y":{"value":5}}},
  {"data":{"name":"one"},"mark":{"type":"text","align":"left","baseline":"middle","font":"DejaVu Sans","fontSize":8,"color":"#3a3aa2","text":"—MA(50) 2371.24"},"encoding":{"x":{"value":3},"y":{"value":14}}},
  {"data":{"name":"one"},"mark":{"type":"text","align":"left","baseline":"middle","font":"DejaVu Sans","fontSize":8,"color":"#d93a4e","text":"—MA(200) 2260.49"},"encoding":{"x":{"value":3},"y":{"value":24}}},
  {"data":{"name":"one"},"mark":{"type":"text","align":"left","baseline":"top","fontSize":12,"fontWeight":"bold","color":"#000","text":"$SPX"},"encoding":{"x":{"value":0},"y":{"value":-23}}},
  {"data":{"name":"one"},"mark":{"type":"text","align":"left","baseline":"top","fontSize":8.5,"color":"#222","text":"S&P 500 Large Cap Index"},"encoding":{"x":{"value":34},"y":{"value":-21}}},
  {"data":{"name":"one"},"mark":{"type":"text","align":"left","baseline":"top","fontSize":7,"color":"#222","text":"INDX"},"encoding":{"x":{"value":136},"y":{"value":-20}}},
  {"data":{"name":"one"},"mark":{"type":"text","align":"left","baseline":"top","fontSize":9,"color":"#222","text":"24-May-2017"},"encoding":{"x":{"value":0},"y":{"value":-11}}},
  {"data":{"name":"one"},"mark":{"type":"text","align":"right","baseline":"top","fontSize":10,"color":"#555","text":"© StockCharts.com"},"encoding":{"x":{"value":592},"y":{"value":-22}}},
  {"data":{"name":"one"},"mark":{"type":"text","align":"left","baseline":"top","fontSize":9,"fontWeight":"bold","color":"#000","text":"Open"},"encoding":{"x":{"value":256},"y":{"value":-11}}},
  {"data":{"name":"one"},"mark":{"type":"text","align":"left","baseline":"top","fontSize":9,"color":"#222","text":"2401.41"},"encoding":{"x":{"value":281},"y":{"value":-11}}},
  {"data":{"name":"one"},"mark":{"type":"text","align":"left","baseline":"top","fontSize":9,"fontWeight":"bold","color":"#000","text":"High"},"encoding":{"x":{"value":318},"y":{"value":-11}}},
  {"data":{"name":"one"},"mark":{"type":"text","align":"left","baseline":"top","fontSize":9,"color":"#222","text":"2405.58"},"encoding":{"x":{"value":340},"y":{"value":-11}}},
  {"data":{"name":"one"},"mark":{"type":"text","align":"left","baseline":"top","fontSize":9,"fontWeight":"bold","color":"#000","text":"Low"},"encoding":{"x":{"value":376},"y":{"value":-11}}},
  {"data":{"name":"one"},"mark":{"type":"text","align":"left","baseline":"top","fontSize":9,"color":"#222","text":"2397.99"},"encoding":{"x":{"value":396},"y":{"value":-11}}},
  {"data":{"name":"one"},"mark":{"type":"text","align":"left","baseline":"top","fontSize":9,"fontWeight":"bold","color":"#000","text":"Close"},"encoding":{"x":{"value":433},"y":{"value":-11}}},
  {"data":{"name":"one"},"mark":{"type":"text","align":"left","baseline":"top","fontSize":9,"color":"#222","text":"2404.39"},"encoding":{"x":{"value":461},"y":{"value":-11}}},
  {"data":{"name":"one"},"mark":{"type":"text","align":"left","baseline":"top","fontSize":9,"fontWeight":"bold","color":"#000","text":"Chg"},"encoding":{"x":{"value":498},"y":{"value":-11}}},
  {"data":{"name":"one"},"mark":{"type":"text","align":"left","baseline":"top","fontSize":9,"color":"#222","text":"+5.97 (+0.25%)"},"encoding":{"x":{"value":518},"y":{"value":-11}}},
  {"data":{"name":"one"},"mark":{"type":"text","align":"left","baseline":"top","fontSize":8,"color":"#1a9a2a","text":"▲"},"encoding":{"x":{"value":584},"y":{"value":-11}}}
 ]
},
{
 "width":592,"height":84,
 "resolve":{"axis":{"x":"independent","y":"independent"}},
 "layer":[
  {"data":{"name":"p"},"mark":{"type":"line","color":"#5050aa","strokeWidth":1,"clip":true},
   "encoding":{"x":{"field":"i","type":"quantitative","scale":{"domain":[-2.75,141.3],"nice":false,"zero":false},
     "axis":{"title":null,"values":[0,4,9,14,18,21,23,28,33,38,42,46,51,55,60,62,65,70,75,79,81,84,89,94,99,104,109,113,118,123,128,133,138],
      "labelExpr":"['Nov','7','14','21','28','Dec','','12','19','27','2017','9','17','23','','Feb','6','13','21','','Mar','6','13','20','27','Apr','10','17','24','May','8','15','22'][indexof([0,4,9,14,18,21,23,28,33,38,42,46,51,55,60,62,65,70,75,79,81,84,89,94,99,104,109,113,118,123,128,133,138], datum.value)]",
      "labelFontWeight":{"condition":{"test":"indexof([0,21,42,62,81,104,123], datum.value) >= 0","value":"bold"},"value":"normal"},
      "labelFontSize":{"condition":{"test":"indexof([0,21,42,62,81,104,123], datum.value) >= 0","value":10},"value":9},
      "labelAlign":{"condition":{"test":"datum.value == 18","value":"right"},"value":"center"},
      "gridColor":{"condition":{"test":"indexof([0,21,42,62,81,104,123], datum.value) >= 0","value":"#c4c4c4"},"value":"#e4e4e4"},
      "labelPadding":2,"labelOverlap":false,"labelFlush":false,"labelBound":false,"labelColor":"#333"}},
    "y":{"field":"bu","type":"quantitative","scale":{"domain":[8.73,23.95],"nice":false,"zero":false},
     "axis":{"title":null,"orient":"right","values":[10,12.5,15,17.5,20,22.5],"format":".1f","labelOverlap":false,"labelFontSize":10,"labelPadding":4,"ticks":true,"tickSize":3,"tickColor":"#999","gridColor":"#e4e4e4"}}}},
  {"data":{"name":"p"},"mark":{"type":"line","color":"#5050aa","strokeWidth":1,"strokeDash":[2,2],"clip":true},
   "encoding":{"x":{"field":"i","type":"quantitative","axis":null},"y":{"field":"bm","type":"quantitative","axis":null}}},
  {"data":{"name":"p"},"mark":{"type":"line","color":"#5050aa","strokeWidth":1,"clip":true},
   "encoding":{"x":{"field":"i","type":"quantitative","axis":null},"y":{"field":"bl","type":"quantitative","axis":null}}},
  {"data":{"name":"p"},"mark":{"type":"rule","color":"#000","strokeWidth":1,"clip":true},
   "encoding":{"x":{"field":"i","type":"quantitative","axis":null},"y":{"field":"vl","type":"quantitative","axis":null},"y2":{"field":"vh"}}},
  {"data":{"name":"p"},"mark":{"type":"bar","size":3,"stroke":"#000","strokeWidth":0.8,"clip":true},
   "encoding":{"x":{"field":"i","type":"quantitative","axis":null},"y":{"field":"vo","type":"quantitative","axis":null},"y2":{"field":"vc"},
    "fill":{"condition":{"test":"datum.vc >= datum.vo","value":"#ffffff"},"value":"#000000"}}},
  {"data":{"name":"one"},"mark":{"type":"rule","color":"#1c1cf0","strokeWidth":2,"strokeDash":[2,3]},
   "encoding":{"x":{"datum":136.4,"axis":null},"y":{"datum":23.95,"axis":null},"y2":{"datum":8.73}}},
  {"data":{"name":"one"},"mark":{"type":"point","shape":"M0,-1 A0.629,1 0 1,1 0,1 A0.629,1 0 1,1 0,-1 Z","size":1225,"filled":false,"color":"#1c1cf0","strokeWidth":2,"opacity":1},
   "encoding":{"x":{"datum":136.2,"axis":null},"y":{"datum":14.45,"axis":null}}},
  {"data":{"name":"one"},"mark":{"type":"text","align":"left","baseline":"middle","font":"DejaVu Sans","fontSize":8,"color":"#333","text":"▣ $VIX 10.01"},"encoding":{"x":{"value":3},"y":{"value":5}}},
  {"data":{"name":"one"},"mark":{"type":"text","align":"left","baseline":"middle","font":"DejaVu Sans","fontSize":7.5,"color":"#3a3aa2","text":"—BB(20,2.0) 8.05 - 10.98 - 13.90"},"encoding":{"x":{"value":3},"y":{"value":14}}}
 ]
}
]
}
